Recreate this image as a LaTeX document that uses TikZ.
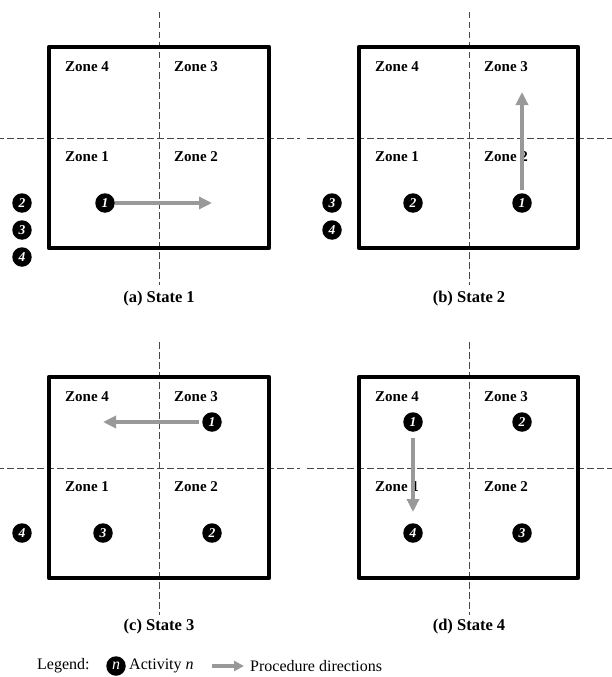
\documentclass[tikz,border=0pt]{standalone}
\usepackage{fontspec}
\setmainfont{Liberation Serif}
\usetikzlibrary{arrows.meta}
\tikzset{
  zonebox/.style={draw=black, line width=4.2pt, line join=round},
  divider/.style={draw=black!72, line width=0.9pt, dash pattern=on 6.5pt off 3.5pt},
  zonelabel/.style={anchor=west, inner sep=0pt, font=\bfseries\fontsize{15}{17}\selectfont},
  act/.style={circle, fill=black, text=white, inner sep=0pt, minimum size=19.5pt,
    font=\bfseries\itshape\fontsize{13.5}{13.5}\selectfont},
  procarrow/.style={draw=black!40, line width=4pt, -{Triangle[length=13pt,width=12pt]}},
  legarrow/.style={draw=black!40, line width=3.5pt, -{Triangle[length=10pt,width=10pt]}},
  caption/.style={inner sep=0pt, font=\bfseries\fontsize{16.5}{18}\selectfont},
  legtext/.style={inner sep=0pt, font=\fontsize{16}{18}\selectfont},
}
\begin{document}
\begin{tikzpicture}[x=1pt,y=-1pt]
\useasboundingbox (0,0) rectangle (612,677);

% ---------- panel (a) ----------
\begin{scope}
  \draw[divider] (159,12) -- (159,285);
  \draw[divider] (-3,138) -- (300,138);
  \draw[zonebox] (49,47) rectangle (269,248);
  \node[zonelabel] (a-z4) at (65,67) {Zone 4};
  \node[zonelabel] (a-z3) at (174,67) {Zone 3};
  \node[zonelabel] (a-z1) at (65,157) {Zone 1};
  \node[zonelabel] (a-z2) at (174,157) {Zone 2};
  \node[act] (a1) at (105,203) {1};
  \node[act] (a2) at (22,203) {2};
  \node[act] (a3) at (22,230) {3};
  \node[act] (a4) at (22,257) {4};
  \coordinate (a-end) at (212,203);
  \draw[procarrow] (a1) -- (a-end);
  \node[caption] (a-cap) at (159,299) {(a) State 1};
\end{scope}

% ---------- panel (b) ----------
\begin{scope}[shift={(310,0)}]
  \draw[divider] (159,12) -- (159,285);
  \draw[divider] (-3,138) -- (305,138);
  \draw[zonebox] (49,47) rectangle (268,248);
  \node[zonelabel] (b-z4) at (65,67) {Zone 4};
  \node[zonelabel] (b-z3) at (174,67) {Zone 3};
  \node[zonelabel] (b-z1) at (65,157) {Zone 1};
  \node[zonelabel] (b-z2) at (174,157) {Zone 2};
  \node[act] (b2) at (103,203) {2};
  \node[act] (b1) at (212,203) {1};
  \node[act] (b3) at (22,203) {3};
  \node[act] (b4) at (22,230) {4};
  \coordinate (b-end) at (212,92);
  \draw[procarrow, shorten <=3pt] (b1) -- (b-end);
  \node[caption] (b-cap) at (159,299) {(b) State 2};
\end{scope}

% ---------- panel (c) ----------
\begin{scope}[shift={(0,330)}]
  \draw[divider] (159,12) -- (159,285);
  \draw[divider] (-3,138) -- (300,138);
  \draw[zonebox] (49,47) rectangle (269,248);
  \node[zonelabel] (c-z4) at (65,67) {Zone 4};
  \node[zonelabel] (c-z3) at (174,67) {Zone 3};
  \node[zonelabel] (c-z1) at (65,157) {Zone 1};
  \node[zonelabel] (c-z2) at (174,157) {Zone 2};
  \node[act] (c1) at (212,92) {1};
  \node[act] (c3) at (103,203) {3};
  \node[act] (c2) at (212,203) {2};
  \node[act] (c4) at (22,203) {4};
  \coordinate (c-end) at (103,92);
  \draw[procarrow, shorten <=3pt] (c1) -- (c-end);
  \node[caption] (c-cap) at (159,297) {(c) State 3};
\end{scope}

% ---------- panel (d) ----------
\begin{scope}[shift={(310,330)}]
  \draw[divider] (159,12) -- (159,285);
  \draw[divider] (-3,138) -- (305,138);
  \draw[zonebox] (49,47) rectangle (268,248);
  \node[zonelabel] (d-z4) at (65,67) {Zone 4};
  \node[zonelabel] (d-z3) at (174,67) {Zone 3};
  \node[zonelabel] (d-z1) at (65,157) {Zone 1};
  \node[zonelabel] (d-z2) at (174,157) {Zone 2};
  \node[act] (d1) at (103,92) {1};
  \node[act] (d2) at (212,92) {2};
  \node[act] (d3) at (212,203) {3};
  \node[act] (d4) at (103,203) {4};
  \coordinate (d-end) at (103,182);
  \draw[procarrow, shorten <=6pt] (d1) -- (d-end);
  \node[caption] (d-cap) at (159,297) {(d) State 4};
\end{scope}

% ---------- legend ----------
\node[legtext, anchor=west] (leg) at (37,666) {Legend:};
\node[act, minimum size=19.5pt, font=\itshape\fontsize{16}{16}\selectfont] (legn) at (116,666) {n};
\node[legtext, anchor=west] (legact) at (129,666) {Activity \textit{n}};
\coordinate (legA) at (212,666);
\coordinate (legB) at (244,666);
\draw[legarrow] (legA) -- (legB);
\node[legtext, anchor=west] (legproc) at (250,666) {Procedure directions};
\end{tikzpicture}
\end{document}
